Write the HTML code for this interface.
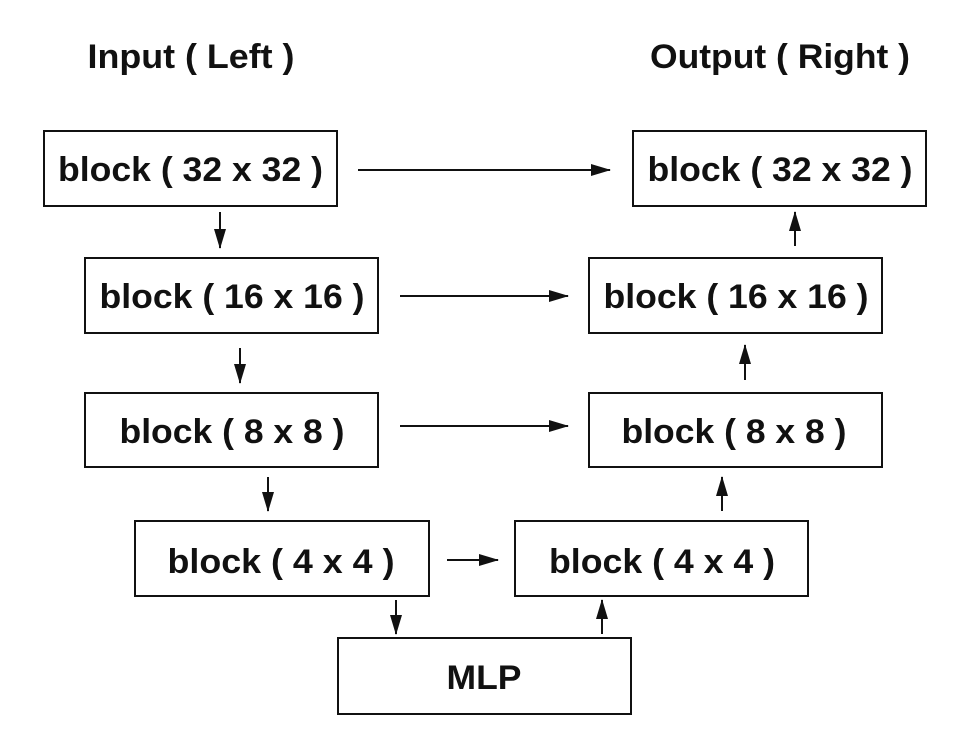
<!DOCTYPE html>
<html><head><meta charset="utf-8"><style>
html,body{margin:0;padding:0;background:#fff;}
svg{display:block}
text{font-family:"Liberation Sans",Arial,sans-serif;font-weight:bold;font-size:34px;fill:#111;text-anchor:middle;dominant-baseline:central}
</style></head><body>
<svg width="958" height="750" viewBox="0 0 958 750" xmlns="http://www.w3.org/2000/svg">
<defs><marker id="b" markerWidth="20" markerHeight="12" refX="19" refY="6" orient="auto" markerUnits="userSpaceOnUse"><path d="M0,0 L20,6 L0,12 z" fill="#111"/></marker></defs>
<text x="191" y="57" textLength="207" lengthAdjust="spacingAndGlyphs">Input ( Left )</text>
<text x="780" y="57" textLength="260" lengthAdjust="spacingAndGlyphs">Output ( Right )</text>
<g fill="none" stroke="#111" stroke-width="2">
<rect x="44" y="131" width="293" height="75"/>
<rect x="633" y="131" width="293" height="75"/>
<rect x="85" y="258" width="293" height="75"/>
<rect x="589" y="258" width="293" height="75"/>
<rect x="85" y="393" width="293" height="74"/>
<rect x="589" y="393" width="293" height="74"/>
<rect x="135" y="521" width="294" height="75"/>
<rect x="515" y="521" width="293" height="75"/>
<rect x="338" y="638" width="293" height="76"/>
</g>
<g lengthAdjust="spacingAndGlyphs">
<text x="190.5" y="170" textLength="265" lengthAdjust="spacingAndGlyphs">block ( 32 x 32 )</text>
<text x="780" y="170" textLength="265" lengthAdjust="spacingAndGlyphs">block ( 32 x 32 )</text>
<text x="232" y="297" textLength="265" lengthAdjust="spacingAndGlyphs">block ( 16 x 16 )</text>
<text x="736" y="297" textLength="265" lengthAdjust="spacingAndGlyphs">block ( 16 x 16 )</text>
<text x="232" y="432" textLength="225" lengthAdjust="spacingAndGlyphs">block ( 8 x 8 )</text>
<text x="734" y="432" textLength="225" lengthAdjust="spacingAndGlyphs">block ( 8 x 8 )</text>
<text x="281" y="562" textLength="227" lengthAdjust="spacingAndGlyphs">block ( 4 x 4 )</text>
<text x="662" y="562" textLength="226" lengthAdjust="spacingAndGlyphs">block ( 4 x 4 )</text>
<text x="484" y="678" textLength="75" lengthAdjust="spacingAndGlyphs">MLP</text>
</g>
<g stroke="#111" stroke-width="2">
<line x1="358" y1="170" x2="610" y2="170" marker-end="url(#b)"/>
<line x1="400" y1="296" x2="568" y2="296" marker-end="url(#b)"/>
<line x1="400" y1="426" x2="568" y2="426" marker-end="url(#b)"/>
<line x1="447" y1="560" x2="498" y2="560" marker-end="url(#b)"/>
<line x1="220" y1="212" x2="220" y2="248" marker-end="url(#b)"/>
<line x1="240" y1="348" x2="240" y2="383" marker-end="url(#b)"/>
<line x1="268" y1="477" x2="268" y2="511" marker-end="url(#b)"/>
<line x1="396" y1="600" x2="396" y2="634" marker-end="url(#b)"/>
<line x1="795" y1="246" x2="795" y2="212" marker-end="url(#b)"/>
<line x1="745" y1="380" x2="745" y2="345" marker-end="url(#b)"/>
<line x1="722" y1="511" x2="722" y2="477" marker-end="url(#b)"/>
<line x1="602" y1="634" x2="602" y2="600" marker-end="url(#b)"/>
</g>
</svg>
</body></html>
